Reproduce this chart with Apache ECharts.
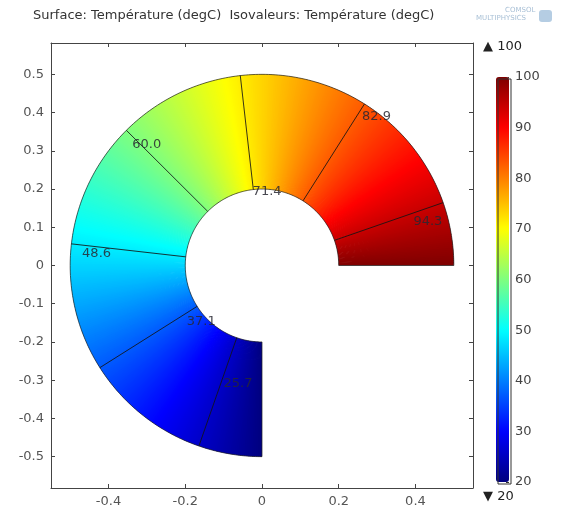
<!DOCTYPE html>
<html><head><meta charset="utf-8">
<script src="https://cdn.jsdelivr.net/npm/echarts@6/dist/echarts.min.js"></script>
<style>html,body{margin:0;padding:0;background:#fff}#c{width:580px;height:506px}</style>
</head><body><div id="c"></div>
<script>
// ---------------- data ----------------
const titleText = 'Surface: Température (degC)  Isovaleurs: Température (degC)';
const xTicks = [-0.4, -0.2, 0, 0.2, 0.4];
const yTicks = [-0.5, -0.4, -0.3, -0.2, -0.1, 0, 0.1, 0.2, 0.3, 0.4, 0.5];
const innerRadius = 0.2;
const outerRadius = 0.5;
const boundaryAngles = [0, 270];      // degrees, start/end of the domain
const boundaryTemps = [100, 20];      // degC at those ends
const isoValues = [94.3, 82.9, 71.4, 60.0, 48.6, 37.1, 25.7];
const isoAngles = [19.2, 57.7, 96.5, 135.0, 173.5, 212.3, 250.8]; // degrees
const tempRange = [20, 100];
const jetColors = ['#00007f', '#0000ff', '#007fff', '#00ffff', '#7fff7f', '#ffff00', '#ff7f00', '#ff0000', '#7f0000'];

// ---------------- helpers ----------------
const FONT = 'DejaVu Sans';
function hex2rgb(h){ return [parseInt(h.substr(1,2),16), parseInt(h.substr(3,2),16), parseInt(h.substr(5,2),16)]; }
const jetRGB = jetColors.map(hex2rgb);
function jet(t){
  const u = Math.min(1, Math.max(0, (t - tempRange[0]) / (tempRange[1] - tempRange[0])));
  const s = u * (jetRGB.length - 1);
  const i = Math.min(jetRGB.length - 2, Math.floor(s));
  const f = s - i;
  const a = jetRGB[i], b = jetRGB[i + 1];
  return 'rgb(' + [0,1,2].map(k => Math.round(a[k] + (b[k] - a[k]) * f)).join(',') + ')';
}
function polar(r, deg){ const a = deg * Math.PI / 180; return [r * Math.cos(a), r * Math.sin(a)]; }
function fmt(v){ return v === 0 ? '0' : (Math.round(v * 10) / 10).toFixed(1); }

// knots of the field: ends + isolines
const knotAngles = [boundaryAngles[0]].concat(isoAngles, [boundaryAngles[1]]);
const knotTemps = [boundaryTemps[0]].concat(isoValues, [boundaryTemps[1]]);
const bands = [];
for (let i = 0; i < knotAngles.length - 1; i++) bands.push([knotAngles[i], knotAngles[i + 1], knotTemps[i], knotTemps[i + 1]]);
const isoData = isoValues.map((v, i) => [isoAngles[i], v]);
const isoLabelRadius = [0.418, 0.488, 0.216, 0.478, 0.472, 0.232, 0.305]; // label anchor along isoline (layout)

function renderBand(params, api){
  const a0 = api.value(0), a1 = api.value(1), t0 = api.value(2), t1 = api.value(3);
  const n = Math.max(2, Math.ceil((a1 - a0) / 0.6));
  const last = params.dataIndex === bands.length - 1;
  const children = [];
  for (let k = 0; k < n; k++){
    const b0 = a0 + (a1 - a0) * k / n;
    let b1 = a0 + (a1 - a0) * (k + 1) / n;
    if (!(last && k === n - 1)) b1 += 0.5; // overlap into next slice to hide seams
    const tm = t0 + (t1 - t0) * (k + 0.5) / n;
    const pts = [polar(innerRadius, b0), polar(outerRadius, b0), polar(outerRadius, b1), polar(innerRadius, b1)].map(p => api.coord(p));
    children.push({type: 'polygon', shape: {points: pts}, style: {fill: jet(tm)}});
  }
  return {type: 'group', children};
}
function renderOutline(params, api){
  const pts = [];
  const a0 = boundaryAngles[0], a1 = boundaryAngles[1];
  for (let a = a0; a <= a1 + 1e-9; a += 1) pts.push(api.coord(polar(outerRadius, a)));
  for (let a = a1; a >= a0 - 1e-9; a -= 1) pts.push(api.coord(polar(innerRadius, a)));
  return {type: 'polygon', shape: {points: pts}, style: {fill: null, stroke: 'rgba(35,35,35,0.8)', lineWidth: 0.9}};
}
function renderIso(params, api){
  const ang = api.value(0), val = api.value(1);
  const p0 = api.coord(polar(innerRadius, ang)), p1 = api.coord(polar(outerRadius, ang));
  const lp = api.coord(polar(isoLabelRadius[params.dataIndex], ang));
  return {type: 'group', children: [
    {type: 'line', shape: {x1: p0[0], y1: p0[1], x2: p1[0], y2: p1[1]}, style: {stroke: 'rgba(20,20,20,0.85)', lineWidth: 1}},
    {type: 'text', x: lp[0], y: lp[1] + 2, style: {text: val.toFixed(1), fill: 'rgba(40,40,50,0.85)', fontSize: 13, fontFamily: FONT, align: 'left', verticalAlign: 'top'}}
  ]};
}

const axisCol = '#444';
const labelStyle = {color: '#555', fontSize: 13, fontFamily: FONT};
function xAx(pos, show){
  return {type: 'value', gridIndex: 0, position: pos, min: -0.55, max: 0.55,
    splitLine: {show: false},
    axisLine: {show: true, onZero: false, lineStyle: {color: axisCol, width: 1}},
    axisTick: {show: true, inside: true, length: 4, customValues: xTicks, lineStyle: {color: axisCol}},
    axisLabel: Object.assign({show: show, customValues: xTicks, formatter: fmt, margin: 7}, labelStyle)};
}
function yAx(pos, show){
  return {type: 'value', gridIndex: 0, position: pos, min: -0.582, max: 0.582,
    splitLine: {show: false},
    axisLine: {show: true, onZero: false, lineStyle: {color: axisCol, width: 1}},
    axisTick: {show: true, inside: true, length: 4, customValues: yTicks, lineStyle: {color: axisCol}},
    axisLabel: Object.assign({show: show, customValues: yTicks, formatter: fmt, margin: 7}, labelStyle)};
}

const chart = echarts.init(document.getElementById('c'), null, {renderer: 'canvas'});
chart.setOption({
  animation: false,
  backgroundColor: '#fff',
  grid: [
    {left: 51, top: 43, width: 422, height: 445, outerBoundsMode: 'none', containLabel: false},
    {left: 496, top: 77, width: 13, height: 405, outerBoundsMode: 'none', containLabel: false}
  ],
  xAxis: [xAx('bottom', true), xAx('top', false),
    {type: 'value', gridIndex: 1, min: 0, max: 1, show: false}],
  yAxis: [yAx('left', true), yAx('right', false),
    {type: 'value', gridIndex: 1, position: 'right', min: 20, max: 100, interval: 10,
      splitLine: {show: false},
      axisLine: {show: false, onZero: false},
      axisTick: {show: true, inside: true, length: 3, lineStyle: {color: '#333'}},
      axisLabel: {color: '#444', fontSize: 13, fontFamily: FONT, margin: 6}}],
  visualMap: {type: 'continuous', min: tempRange[0], max: tempRange[1], orient: 'vertical',
    left: 496, top: 77, itemWidth: 13, itemHeight: 405, padding: 0, calculable: false,
    seriesIndex: 0, dimension: 2, inRange: {color: jetColors}},
  graphic: [
    {type: 'text', left: 33, top: 9, style: {text: titleText, fill: '#333', fontSize: 13, fontFamily: FONT}},
    {type: 'text', left: 505, top: 7, style: {text: 'COMSOL', fill: '#a9c0d6', fontSize: 7, fontFamily: FONT}},
    {type: 'text', left: 476, top: 15, style: {text: 'MULTIPHYSICS', fill: '#a9c0d6', fontSize: 7, fontFamily: FONT}},
    {type: 'rect', left: 539, top: 10, shape: {width: 13, height: 12, r: 3}, style: {fill: '#b5cde3'}},
    {type: 'text', left: 483, top: 40, style: {text: '▲ 100', fill: '#222', fontSize: 13, fontFamily: FONT}},
    {type: 'text', left: 483, top: 490, style: {text: '▼ 20', fill: '#222', fontSize: 13, fontFamily: FONT}},
    {type: 'rect', left: 495.5, top: 76.5, z: 100, shape: {width: 13, height: 405}, style: {fill: null, stroke: '#333', lineWidth: 1}}
  ],
  series: [
    {type: 'custom', name: 'surface', coordinateSystem: 'cartesian2d', xAxisIndex: 0, yAxisIndex: 0, renderItem: renderBand, data: bands, silent: true, z: 2},
    {type: 'custom', name: 'outline', coordinateSystem: 'cartesian2d', xAxisIndex: 0, yAxisIndex: 0, renderItem: renderOutline, data: [[innerRadius, outerRadius]], silent: true, z: 3},
    {type: 'custom', name: 'isolines', coordinateSystem: 'cartesian2d', xAxisIndex: 0, yAxisIndex: 0, renderItem: renderIso, data: isoData, silent: true, z: 4}
  ]
});
</script>
</body></html>
